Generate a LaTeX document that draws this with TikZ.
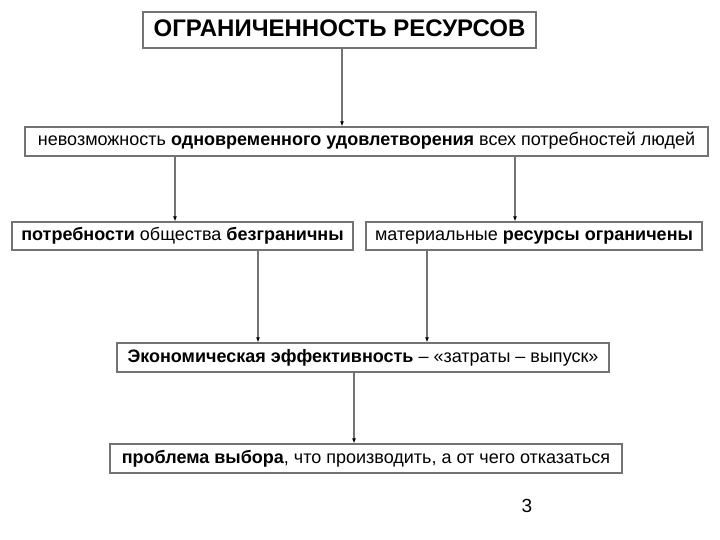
\documentclass[tikz,border=0pt]{standalone}
\usepackage{fontspec}
\setmainfont{Liberation Sans}
\usetikzlibrary{arrows.meta,positioning}

\begin{document}
\begin{tikzpicture}[%
    x=1pt, y=-1pt,               % pixel-like grid, top-down
    >={Latex[length=5pt,width=4pt,black]},
    every node/.style={inner sep=0pt},
    ]
% -------------------------------------------------
% Box and connector styles
\tikzset{
  base/.style={draw=black!55, line width=1.2pt, fill=white, align=center},
  titlebox/.style={base, minimum width=393, minimum height=36,
    text height=17pt, text depth=4pt,
    font={\fontsize{24}{28}\selectfont\bfseries}},
  textbox/.style={base, minimum height=29,
    text height=13pt, text depth=4pt,
    font={\fontsize{18}{21}\selectfont}},
  norm/.style={->, draw=black!55, line width=1.3pt}
}
\useasboundingbox (0,0) rectangle (720,540);
% -------------------------------------------------
% Place the boxes
\node [titlebox] (limits) at (339.5,30) {ОГРАНИЧЕННОСТЬ РЕСУРСОВ};
\node [textbox, minimum width=683] (need) at (366.5,141.5)
  {невозможность \textbf{одновременного удовлетворения} всех потребностей людей};
\node [textbox, minimum width=341, minimum height=28] (wants) at (182.5,236)
  {\textbf{потребности} общества \textbf{безграничны}};
\node [textbox, minimum width=336, minimum height=28] (means) at (534,236)
  {материальные \textbf{ресурсы ограничены}};
\node [textbox, minimum width=492] (effic) at (363,357.5)
  {\textbf{Экономическая эффективность} – «затраты – выпуск»};
\node [textbox, minimum width=512] (choice) at (366,458.5)
  {\textbf{проблема выбора}, что производить, а от чего отказаться};
\node [font={\fontsize{19}{22}\selectfont}] (page) at (527,506) {3};
% -------------------------------------------------
% Connectors
\draw [norm] (limits.south -| 342,0) -- (need.north -| 342,0);
\draw [norm] (need.south -| 175,0) -- (wants.north -| 175,0);
\draw [norm] (need.south -| 515,0) -- (means.north -| 515,0);
\draw [norm] (wants.south -| 258,0) -- (effic.north -| 258,0);
\draw [norm] (means.south -| 427,0) -- (effic.north -| 427,0);
\draw [norm] (effic.south -| 354,0) -- (choice.north -| 354,0);
% -------------------------------------------------
\end{tikzpicture}
\end{document}
